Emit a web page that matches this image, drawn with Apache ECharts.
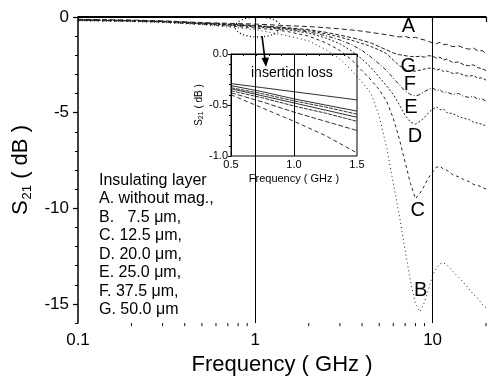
<!DOCTYPE html>
<html>
<head>
<meta charset="utf-8">
<script src="https://cdn.jsdelivr.net/npm/echarts@6/dist/echarts.min.js"></script>
<style>
  html, body { margin: 0; padding: 0; background: #fff; }
  #chart { width: 489px; height: 381px; }
</style>
</head>
<body>
<div id="chart"></div>
<script>
const FONT = '"Liberation Sans", Arial, Helvetica, sans-serif';

// main plot: S21 (dB) vs frequency (GHz)
const freqGHz = [0.1, 0.2, 0.3, 0.5, 0.7, 1, 1.5, 2, 2.5, 3, 3.5, 4, 4.5, 5, 5.5, 6, 6.5, 7, 7.5, 8,
  8.5, 9, 9.5, 10, 10.5, 11, 11.5, 12, 13, 14, 15, 16, 17, 18, 19, 20];

const s21A = [-0.12, -0.16, -0.2, -0.29, -0.33, -0.37, -0.45, -0.5, -0.56, -0.62, -0.68, -0.74, -0.81, -0.87, -0.93, -0.99,
  -1.04, -1.02, -1.1, -1.06, -1.15, -1.2, -1.28, -1.35, -1.4, -1.32, -1.45, -1.42, -1.55, -1.5, -1.62, -1.68, -1.62, -1.78, -1.75, -1.9];
const s21G = [-0.14, -0.18, -0.22, -0.31, -0.37, -0.44, -0.56, -0.66, -0.8, -0.95, -1.08, -1.22, -1.36, -1.55, -1.72, -1.88,
  -1.97, -2.02, -2.06, -2.08, -2.05, -2.1, -2.02, -2.05, -2.15, -2.1, -2.25, -2.2, -2.38, -2.35, -2.5, -2.55, -2.5, -2.65, -2.7, -2.8];
const s21F = [-0.15, -0.19, -0.23, -0.33, -0.39, -0.46, -0.59, -0.72, -0.88, -1.05, -1.22, -1.38, -1.55, -1.72, -1.92, -2.25,
  -2.55, -2.72, -2.82, -2.83, -2.78, -2.72, -2.68, -2.66, -2.78, -2.72, -2.85, -2.82, -2.95, -2.92, -3.05, -3.1, -3.05, -3.2, -3.18, -3.3];
const s21E = [-0.16, -0.2, -0.24, -0.34, -0.41, -0.48, -0.62, -0.78, -0.98, -1.2, -1.45, -1.75, -2.1, -2.45, -2.8, -3.2,
  -3.55, -3.87, -4.05, -4.13, -4.05, -3.9, -3.78, -3.7, -3.85, -3.8, -3.95, -3.92, -4.05, -4.0, -4.15, -4.2, -4.15, -4.3, -4.28, -4.4];
const s21D = [-0.17, -0.21, -0.25, -0.36, -0.43, -0.51, -0.66, -0.85, -1.1, -1.4, -1.78, -2.2, -2.65, -3.15, -3.6, -4.05,
  -4.6, -5.15, -5.5, -5.6, -5.45, -5.25, -5.0, -4.82, -4.7, -4.85, -4.8, -5.0, -5.05, -5.2, -5.3, -5.35, -5.5, -5.55, -5.6, -5.7];
const s21C = [-0.18, -0.22, -0.27, -0.38, -0.47, -0.57, -0.75, -1.0, -1.35, -1.75, -2.25, -2.8, -3.3, -3.8, -4.4, -5.3,
  -6.4, -7.6, -8.7, -9.5, -9.2, -8.8, -8.4, -8.1, -7.85, -7.8, -7.95, -8.0, -8.25, -8.35, -8.5, -8.6, -8.75, -8.8, -8.9, -9.0];
const s21B = [-0.2, -0.24, -0.29, -0.4, -0.52, -0.66, -0.97, -1.25, -1.7, -2.2, -2.8, -3.4, -4.0, -5.2, -6.8, -8.7,
  -10.4, -12.2, -13.8, -15.0, -15.4, -14.9, -14.2, -13.5, -13.1, -12.9, -12.85, -12.95, -13.3, -13.6, -13.9, -14.2, -14.5, -14.7, -15.0, -15.2];

// curve letters placed next to each curve (data coordinates)
const curveLetters = ['A', 'G', 'F', 'E', 'D', 'C', 'B'];
const letterFreq = [7.3, 7.3, 7.45, 7.55, 7.95, 8.25, 8.55];
const letterDb = [-0.52, -2.59, -3.52, -4.72, -6.27, -10.1, -14.3];

// inset: zoom on 0.5 - 1.5 GHz
const insetFreq = [0.5, 0.75, 1.0, 1.25, 1.5];
const insetA = [-0.29, -0.33, -0.37, -0.41, -0.45];
const insetG = [-0.31, -0.37, -0.44, -0.50, -0.56];
const insetF = [-0.33, -0.39, -0.46, -0.52, -0.59];
const insetE = [-0.34, -0.41, -0.48, -0.55, -0.62];
const insetD = [-0.36, -0.43, -0.51, -0.58, -0.66];
const insetC = [-0.38, -0.47, -0.57, -0.66, -0.75];
const insetB = [-0.40, -0.53, -0.66, -0.80, -0.97];

// ticks
const mainYLabels = [0, -5, -10, -15];
const mainXLabels = [0.1, 1, 10];
const mainXMinor = [0.2, 0.3, 0.4, 0.5, 0.6, 0.7, 0.8, 0.9, 2, 3, 4, 5, 6, 7, 8, 9, 20];
const gridLinesGHz = [1, 10];

const legendLines = [
  'Insulating layer',
  'A. without mag.,',
  'B.   7.5 μm,',
  'C. 12.5 μm,',
  'D. 20.0 μm,',
  'E. 25.0 μm,',
  'F. 37.5 μm,',
  'G. 50.0 μm'
];

const mainCurves = [
  { name: 'A', data: s21A, dash: [5, 3] },
  { name: 'G', data: s21G, dash: [4, 2] },
  { name: 'F', data: s21F, dash: [3, 2] },
  { name: 'E', data: s21E, dash: [4, 2, 1, 2] },
  { name: 'D', data: s21D, dash: [2, 2] },
  { name: 'C', data: s21C, dash: [3, 3] },
  { name: 'B', data: s21B, dash: [1, 3] }
];
const insetCurves = [
  { name: 'A', data: insetA, dash: 'solid' },
  { name: 'G', data: insetG, dash: 'solid' },
  { name: 'F', data: insetF, dash: [4, 1] },
  { name: 'E', data: insetE, dash: 'solid' },
  { name: 'D', data: insetD, dash: [4, 1] },
  { name: 'C', data: insetC, dash: [5, 2] },
  { name: 'B', data: insetB, dash: [4, 3] }
];

const chart = echarts.init(document.getElementById('chart'), null, { renderer: 'canvas' });

const series = [];
mainCurves.forEach((c, idx) => {
  series.push({
    type: 'line',
    name: c.name,
    xAxisIndex: 0,
    yAxisIndex: 0,
    symbol: 'none',
    silent: true,
    lineStyle: { color: '#222', width: 1, type: c.dash },
    data: freqGHz.map((f, i) => [f, c.data[i]]),
    markLine: idx === 0 ? {
      silent: true,
      symbol: ['none', 'none'],
      label: { show: false },
      data: [
        ...gridLinesGHz.map((f) => ({ xAxis: f, lineStyle: { color: '#000', width: 1, type: 'solid' } })),
        { yAxis: 0, lineStyle: { color: '#000', width: 2, type: 'solid' } }
      ]
    } : undefined
  });
});
insetCurves.forEach((c, idx) => {
  series.push({
    type: 'line',
    name: 'inset ' + c.name,
    xAxisIndex: 1,
    yAxisIndex: 2,
    symbol: 'none',
    silent: true,
    lineStyle: { color: '#1a1a1a', width: 0.9, type: c.dash },
    data: insetFreq.map((f, i) => [f, c.data[i]]),
    markLine: idx === 0 ? {
      silent: true,
      symbol: ['none', 'none'],
      label: { show: false },
      data: [{ xAxis: 1.0, lineStyle: { color: '#000', width: 1, type: 'solid' } }]
    } : undefined
  });
});

const option = {
  backgroundColor: '#fff',
  animation: false,
  textStyle: { fontFamily: FONT },
  grid: [
    { left: 78, top: 17, right: 0, bottom: 55 },
    { left: 231, top: 54, width: 126, height: 102, show: true, borderColor: '#000', borderWidth: 1, backgroundColor: 'transparent' }
  ],
  xAxis: [
    {
      type: 'log',
      gridIndex: 0,
      logBase: 10,
      min: 0.1,
      max: 20,
      name: 'Frequency ( GHz )',
      nameLocation: 'middle',
      nameGap: 24,
      nameTextStyle: { fontSize: 22, color: '#000', fontFamily: FONT },
      axisLine: { lineStyle: { color: '#000', width: 1.5 } },
      axisTick: { length: 5, lineStyle: { color: '#000', width: 1.2 } },
      axisLabel: {
        fontSize: 17, color: '#000', margin: 9, fontFamily: FONT,
        formatter: (v) => {
          const hit = mainXLabels.find((t) => Math.abs(Math.log10(v) - Math.log10(t)) < 1e-6);
          return hit !== undefined ? String(hit) : '';
        }
      },
      splitLine: { show: false }
    },
    {
      type: 'value',
      gridIndex: 1,
      min: 0.5,
      max: 1.5,
      interval: 0.5,
      name: 'Frequency ( GHz )',
      nameLocation: 'middle',
      nameGap: 17,
      nameTextStyle: { fontSize: 11, color: '#000', fontFamily: FONT },
      axisLine: { lineStyle: { color: '#000', width: 1 } },
      axisTick: { length: 3, lineStyle: { color: '#000' } },
      minorTick: { show: true, splitNumber: 5, length: 2, lineStyle: { color: '#000' } },
      axisLabel: { fontSize: 11, color: '#000', margin: 3, fontFamily: FONT, formatter: (v) => v.toFixed(1) },
      splitLine: { show: false }
    }
  ],
  yAxis: [
    {
      type: 'value',
      gridIndex: 0,
      min: -16,
      max: 0,
      name: 'S{s|21} ( dB )',
      nameLocation: 'middle',
      nameRotate: 90,
      nameGap: 40,
      nameTextStyle: {
        fontSize: 22, color: '#000', fontFamily: FONT,
        rich: { s: { fontSize: 13, color: '#000', fontFamily: FONT, padding: [12, 0, 0, 1] } }
      },
      axisLine: { lineStyle: { color: '#000', width: 1.5 } },
      axisTick: { customValues: mainYLabels, length: 5, lineStyle: { color: '#000', width: 1.2 } },
      axisLabel: { customValues: mainYLabels, fontSize: 17, color: '#000', margin: 9, fontFamily: FONT },
      splitLine: { show: false }
    },
    {
      type: 'value',
      gridIndex: 0,
      position: 'left',
      min: -16,
      max: 0,
      interval: 1,
      axisLine: { show: false },
      axisTick: { length: 3, lineStyle: { color: '#000' } },
      axisLabel: { show: false },
      splitLine: { show: false }
    },
    {
      type: 'value',
      gridIndex: 1,
      min: -1,
      max: 0,
      interval: 0.5,
      name: 'S{s|21} ( dB )',
      nameLocation: 'middle',
      nameRotate: 90,
      nameGap: 26,
      nameTextStyle: {
        fontSize: 10, color: '#000', fontFamily: FONT,
        rich: { s: { fontSize: 7, color: '#000', fontFamily: FONT, padding: [5, 0, 0, 0] } }
      },
      axisLine: { lineStyle: { color: '#000', width: 1 } },
      axisTick: { length: 3, lineStyle: { color: '#000' } },
      minorTick: { show: true, splitNumber: 5, length: 2, lineStyle: { color: '#000' } },
      axisLabel: { fontSize: 11, color: '#000', margin: 3, fontFamily: FONT, formatter: (v) => v.toFixed(1) },
      splitLine: { show: false }
    }
  ],
  series
};

chart.setOption(option);

// log-spaced minor ticks on the frequency axis, placed through the axis scale
const yBottom = chart.convertToPixel({ yAxisIndex: 0 }, -16);
const minorTickGraphics = mainXMinor.map((f) => {
  const x = chart.convertToPixel({ xAxisIndex: 0 }, f);
  return {
    type: 'line',
    silent: true,
    shape: { x1: x, y1: yBottom, x2: x, y2: yBottom + 3 },
    style: { stroke: '#000', lineWidth: 1 }
  };
});

// curve letters, positioned through the chart's own scales
const letterGraphics = curveLetters.map((t, i) => {
  const [x, y] = chart.convertToPixel({ xAxisIndex: 0, yAxisIndex: 0 }, [letterFreq[i], letterDb[i]]);
  return {
    type: 'text',
    silent: true,
    x,
    y,
    style: { text: t, font: '20px ' + FONT, fill: '#000', textAlign: 'center', textVerticalAlign: 'middle' }
  };
});

chart.setOption({
  graphic: [
    {
      type: 'text',
      silent: true,
      x: 99,
      y: 171,
      style: {
        text: legendLines.join('\n'),
        font: '16px ' + FONT,
        fill: '#000',
        lineHeight: 18.5,
        textVerticalAlign: 'top'
      }
    },
    {
      type: 'ellipse',
      silent: true,
      shape: { cx: 258, cy: 27, rx: 23, ry: 10 },
      style: { fill: 'none', stroke: '#000', lineWidth: 1.3, lineDash: [1, 2.5] }
    },
    {
      type: 'line',
      silent: true,
      shape: { x1: 262, y1: 36, x2: 265, y2: 60 },
      style: { stroke: '#000', lineWidth: 1.6 }
    },
    {
      type: 'polygon',
      silent: true,
      shape: { points: [[266, 67], [261.5, 58], [269, 57.5]] },
      style: { fill: '#000' }
    },
    {
      type: 'text',
      silent: true,
      x: 251,
      y: 73,
      style: {
        text: 'insertion loss',
        font: '14px ' + FONT,
        fill: '#000',
        textVerticalAlign: 'middle'
      }
    },
    ...letterGraphics,
    ...minorTickGraphics
  ]
});
</script>
</body>
</html>
